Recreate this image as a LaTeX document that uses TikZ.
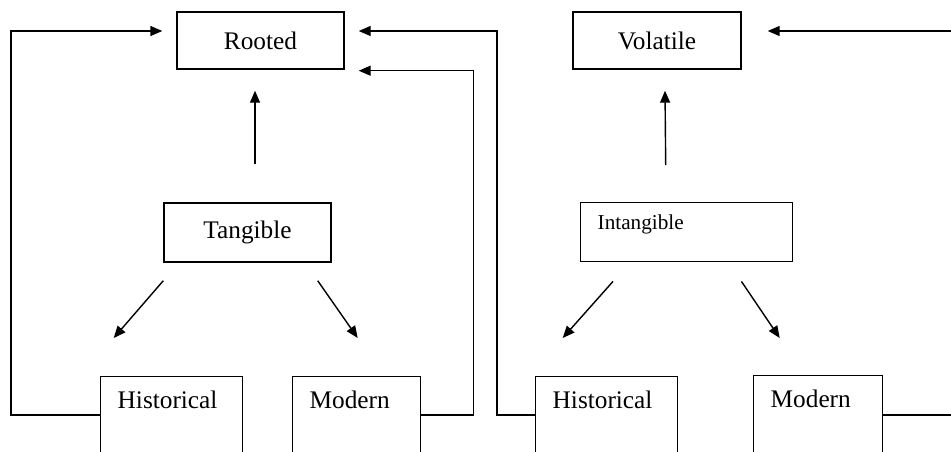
\documentclass[tikz,border=0pt]{standalone}
\usepackage{fontspec}
\setmainfont{Liberation Serif}
\usetikzlibrary{arrows.meta,positioning,calc}

\tikzset{
  box/.style={draw, line width=0.7pt, inner sep=0pt, font=\fontsize{12.65}{15}\selectfont},
  tallbox/.style={box, anchor=north west, align=left, inner xsep=8.5pt,
                  text height=16pt, text depth=31pt},
  arr/.style={line width=0.7pt, -{Triangle[length=6pt,width=5pt]}}
}

\begin{document}
\begin{tikzpicture}[x=0.5pt, y=-0.5pt]
    \path[use as bounding box, clip] (0,0) rectangle (951,451);

    % top row
    \node[box, minimum width=83.5pt, minimum height=28.5pt] (rooted) at (260.5,40.5) {Rooted};
    \node[box, minimum width=84pt, minimum height=28.5pt] (volatile) at (657,40.5) {Volatile};

    % middle row
    \node[box, minimum width=83.5pt, minimum height=29.5pt] (tang) at (247.5,232.5) {Tangible};
    \node[box, anchor=north west, align=left, inner xsep=8.5pt, text width=89pt,
          text height=13.5pt, text depth=16pt, font=\fontsize{10.6}{12}\selectfont]
          (intang) at (580,202) {Intangible};

    % bottom row
    \node[tallbox, text width=54pt] (hist1) at (100,376) {Historical};
    \node[tallbox, text width=47pt] (mod1) at (292,376) {Modern};
    \node[tallbox, text width=54pt] (hist2) at (535,376) {Historical};
    \node[tallbox, text width=47.5pt] (mod2) at (753,375) {Modern};

    % upward arrows
    \draw[arr] ($(tang.north)+(7.5,-38)$) -- ($(rooted.south)+(-5.5,21)$);
    \draw[arr] ($(intang.north)+(-21,-37)$) -- ($(volatile.south)+(8,21)$);

    % split arrows
    \draw[arr] ($(tang.south west)+(0,18)$) -- ($(hist1.north)+(-58,-38)$);
    \draw[arr] ($(tang.south east)+(-14,18)$) -- ($(mod1.north)+(1,-38)$);
    \draw[arr] ($(intang.south west)+(33,19)$) -- ($(hist2.north)+(-44,-38)$);
    \draw[arr] ($(intang.south east)+(-52,19)$) -- ($(mod2.north)+(-38.5,-37)$);

    % feedback lines
    \draw[arr] ($(hist1.north west)+(0,39)$) -- ++(-89,0) |- ($(rooted.west)+(-14,-9.5)$);
    \draw[arr] ($(hist2.north west)+(0,39)$) -- ++(-38,0) |- ($(rooted.east)+(14,-9.5)$);
    \draw[arr] ($(mod1.north east)+(0,39)$) -- ++(52,0) |- ($(rooted.south east)+(14,1)$);
    \draw[arr] ($(mod2.north east)+(0,40)$) -- ++(90,0) |- ($(volatile.east)+(26,-9.5)$);
\end{tikzpicture}
\end{document}
